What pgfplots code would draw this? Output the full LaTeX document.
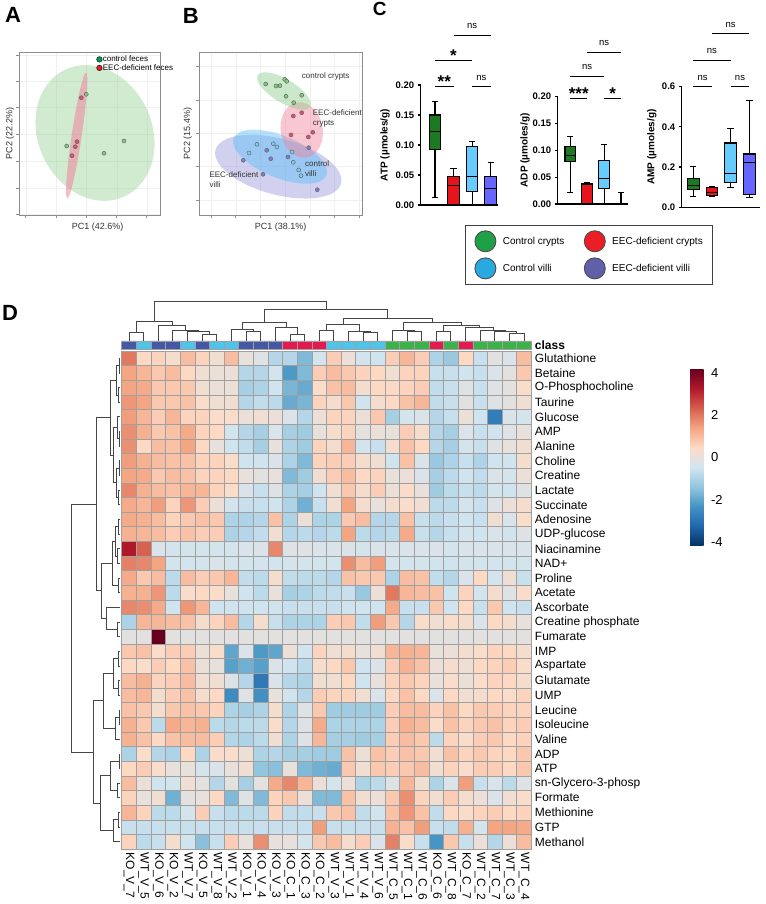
\documentclass[border=0pt]{standalone}
\usepackage{fontspec}
\setmainfont{Liberation Sans}
\usepackage{pgfplots}
\pgfplotsset{compat=1.18}
\usepackage{pgfplotstable}
\usepgfplotslibrary{statistics}

\definecolor{cellgray}{RGB}{160,160,160}
\definecolor{kov}{RGB}{70,87,166}
\definecolor{wtv}{RGB}{79,195,232}
\definecolor{koc}{RGB}{227,26,77}
\definecolor{wtc}{RGB}{59,179,74}
\definecolor{bxgreen}{RGB}{28,122,32}
\definecolor{bxred}{RGB}{232,20,28}
\definecolor{bxblue}{RGB}{102,204,255}
\definecolor{bxpurple}{RGB}{102,102,255}
\definecolor{lggreen}{RGB}{30,160,70}
\definecolor{lgred}{RGB}{235,30,40}
\definecolor{lgblue}{RGB}{40,170,225}
\definecolor{lgpurple}{RGB}{95,95,170}
\definecolor{framegray}{RGB}{140,140,140}
\definecolor{dendro}{RGB}{70,70,70}
\definecolor{elgreen}{RGB}{140,205,140}
\definecolor{elred}{RGB}{240,130,155}
\definecolor{elblue}{RGB}{90,190,245}
\definecolor{elpurple}{RGB}{140,140,215}
\definecolor{ptgreen}{RGB}{130,200,130}
\definecolor{ptred}{RGB}{220,80,110}
\definecolor{ptblue}{RGB}{120,205,240}
\definecolor{ptpurple}{RGB}{125,125,205}
\definecolor{dotgreen}{RGB}{0,160,80}
\definecolor{dotred}{RGB}{230,30,40}

% heatmap values, rows top to bottom (Glutathione ... Methanol), columns in dendrogram order
\pgfplotstableread{
c1 c2 c3 c4 c5 c6 c7 c8 c9 c10 c11 c12 c13 c14 c15 c16 c17 c18 c19 c20 c21 c22 c23 c24 c25 c26 c27 c28
2.0 0.5 0.6 0.3 1.0 0.6 0.2 1.0 0.0 -0.2 -0.9 -0.9 -1.6 -0.4 0.7 0.1 -0.4 -0.5 0.7 1.1 0.7 -1.0 -1.3 0.5 -0.6 -0.1 -0.3 1.0
1.4 1.1 0.8 1.0 0.5 0.2 0.1 0.1 -0.9 -0.9 -0.4 -2.2 -1.6 0.7 1.0 0.8 0.6 0.5 0.2 0.6 0.6 -0.6 -0.6 -0.5 -0.6 -0.3 -0.1 0.8
1.4 1.3 0.8 0.8 0.8 0.2 0.1 0.1 -1.1 -1.0 -0.5 -1.7 -1.9 0.4 0.9 1.0 0.3 0.5 0.5 0.6 0.7 -0.7 -0.6 -0.2 -0.6 -0.2 -0.1 0.4
1.6 1.4 0.8 0.8 0.9 0.4 0.2 0.2 -0.9 -0.7 -0.8 -1.9 -1.7 0.6 0.3 0.8 -0.5 0.3 0.5 0.9 1.1 -0.7 -0.6 -0.1 -0.6 -0.2 -0.1 0.2
1.5 1.1 0.7 1.1 0.6 0.6 0.4 0.4 0.1 0.2 0.1 -0.3 -0.9 0.1 0.6 0.6 0.1 0.8 -1.1 -0.4 -0.3 -0.9 -0.6 0.1 -0.5 -2.8 -0.3 -0.4
1.7 1.2 0.8 0.9 1.3 0.6 0.5 -0.4 -0.9 -1.1 -0.3 -1.1 -1.2 0.0 0.3 0.6 -0.1 0.1 0.0 0.7 0.3 -0.9 -1.1 -0.3 -0.6 -0.5 -0.2 0.0
1.7 0.5 1.0 0.9 1.4 0.5 0.0 -0.5 -0.7 -1.1 0.0 -1.0 -1.2 0.6 0.3 1.1 -0.4 -0.6 0.3 0.9 0.5 -0.9 -1.1 -0.4 -0.6 -0.2 0.0 0.2
1.5 1.2 1.0 0.9 0.9 0.6 0.6 0.4 -0.5 -0.5 -0.3 -1.0 -1.6 0.6 0.7 0.7 0.3 0.2 -0.5 0.9 -0.3 -1.3 -1.0 -0.6 -1.0 -0.5 -0.5 0.3
1.4 1.3 0.8 1.0 0.9 0.6 0.6 0.5 0.0 -0.1 0.0 -1.6 -1.2 0.2 0.7 1.0 0.5 0.6 0.0 0.1 -0.3 -1.1 -0.8 -0.5 -0.7 -0.3 -0.4 0.1
1.8 1.2 1.0 0.9 1.1 1.1 0.6 0.4 -0.3 -0.6 -0.2 -1.0 -1.1 -0.5 0.2 0.8 0.3 0.7 0.1 0.4 0.0 -1.2 -0.8 -0.6 -0.8 -0.4 -0.5 -0.2
1.3 1.1 1.5 0.6 1.6 0.7 0.1 -0.4 -0.6 -0.6 -0.5 -1.0 -1.8 -0.6 0.2 1.4 0.3 0.0 0.3 0.4 0.2 -0.8 -0.8 -0.4 -0.6 -0.2 0.1 0.3
1.3 1.2 1.0 0.6 0.8 0.9 0.8 -1.0 -1.0 -0.9 0.9 -1.0 0.1 -1.0 -1.0 0.8 1.0 -0.9 -0.9 0.9 -0.6 -0.8 -0.6 -0.5 -0.6 0.2 -0.3 0.4
1.2 1.1 1.0 0.7 0.9 0.7 0.7 -1.0 -0.9 -0.7 0.2 -0.9 -0.8 -0.9 -0.8 1.4 -0.8 -0.9 -0.8 1.3 -0.6 -0.9 -0.6 -0.4 -0.5 -0.3 -0.5 -0.2
3.3 2.3 -0.3 -0.4 -0.4 -0.4 -0.4 -0.4 -0.3 -0.3 1.8 -0.2 -0.2 -0.3 -0.3 -0.3 -0.4 -0.3 -0.3 -0.3 -0.3 -0.3 -0.4 -0.3 -0.3 -0.3 -0.3 -0.3
1.9 1.8 1.4 -0.4 -0.4 -0.4 -0.3 -0.4 -0.4 -0.4 -0.4 -0.4 -0.4 -0.4 -0.4 1.7 1.0 1.5 -0.4 -0.4 -0.4 -0.5 -0.5 -0.4 -0.4 -0.4 -0.4 -0.4
1.3 0.8 1.0 -0.8 1.0 0.7 0.8 1.1 -0.7 -0.8 0.3 -0.7 -0.8 -0.8 -0.9 0.9 0.8 0.8 -1.0 1.0 0.9 -0.7 -0.9 -0.3 0.5 -0.4 0.2 -0.6
1.2 1.2 1.6 -0.8 0.4 0.5 0.4 0.0 -0.5 -0.8 0.0 -1.1 -1.0 -0.8 -0.7 -0.6 -1.3 0.1 2.0 1.1 1.0 0.9 -0.5 0.6 -0.4 0.3 -0.2 0.4
1.8 1.7 1.3 -0.5 1.6 1.1 -0.5 -0.5 -0.5 -0.5 -0.5 -0.6 -0.6 -0.6 -0.6 -0.5 -0.5 -0.5 1.3 -0.6 -0.6 0.8 -0.5 0.5 -0.6 0.8 -0.5 -0.6
-1.0 1.1 1.1 1.0 0.9 0.3 0.6 1.0 -0.9 0.3 -0.6 -1.0 -1.0 -1.0 0.7 0.8 -0.7 1.5 0.8 -0.9 0.4 0.2 0.4 0.3 -0.3 0.5 0.3 0.0
-0.1 -0.1 4.2 -0.1 -0.1 -0.1 -0.1 -0.1 -0.1 -0.1 -0.1 -0.1 -0.1 -0.1 -0.1 -0.1 -0.1 -0.1 -0.1 -0.1 -0.1 -0.1 -0.1 -0.1 -0.1 -0.1 -0.1 -0.1
0.8 0.9 0.4 0.7 0.7 0.1 0.4 -2.0 -0.3 -2.2 -2.0 0.1 -0.5 0.6 0.2 0.3 0.0 0.2 1.1 1.2 1.1 0.0 0.1 0.3 0.4 0.6 0.5 0.3
0.5 0.4 0.7 0.5 0.9 0.1 0.0 -2.1 -1.8 -2.1 -0.3 -0.5 -0.8 0.3 0.5 0.8 -0.5 -0.3 0.7 1.2 0.9 0.1 0.3 0.2 0.5 0.6 0.7 0.4
1.0 1.2 0.6 0.7 1.0 0.2 0.2 -0.2 -0.9 -2.9 -0.3 -0.9 -1.0 0.2 0.2 0.5 -0.5 0.0 0.6 0.8 0.6 0.0 0.4 0.1 0.4 0.6 0.5 0.3
1.0 1.1 0.3 0.7 0.9 0.3 0.5 -2.5 -0.2 -2.4 0.0 -0.5 -0.9 0.7 0.6 0.6 0.2 -0.3 0.5 0.9 0.5 -0.3 0.5 0.2 0.3 0.5 0.4 0.6
0.9 0.8 0.3 0.8 0.9 0.8 0.6 -1.0 -1.1 -1.0 0.3 -1.0 -0.2 0.8 -1.2 -1.2 -1.2 -1.2 0.7 1.0 1.0 0.6 0.9 0.5 0.8 0.7 0.6 0.6
1.2 0.8 -0.8 1.3 1.1 1.2 -0.8 -0.9 -0.8 -0.8 0.4 -0.9 -0.2 1.3 -1.0 -1.0 -1.0 -1.0 0.7 1.2 1.0 0.4 0.9 0.6 0.8 0.9 0.6 0.7
1.2 0.9 0.5 0.9 1.0 1.0 0.7 -0.9 -1.0 -0.8 0.2 -1.0 -0.2 1.1 -1.1 -1.1 -1.2 -1.1 0.7 1.0 0.8 -0.8 0.6 0.4 0.7 0.8 0.5 0.6
-1.0 0.4 -0.9 -1.0 0.5 -1.0 0.4 0.4 0.1 -1.0 -0.9 -1.1 -1.1 -1.2 -1.2 0.9 0.1 0.9 0.7 0.9 0.8 0.2 0.9 0.6 0.8 0.6 0.5 0.8
0.5 0.7 0.4 0.0 0.0 -0.4 -0.3 0.0 0.2 -1.4 -1.5 0.0 -1.6 -1.8 -1.9 0.8 0.2 0.8 0.7 0.8 1.0 0.2 0.6 0.4 0.7 0.7 0.5 0.8
1.0 0.1 -0.5 -0.4 0.2 -0.1 -0.9 -0.1 -1.1 -0.1 1.3 1.8 1.1 0.1 -0.4 0.1 -1.0 -0.8 -0.2 1.1 0.2 -1.0 -0.3 1.5 -0.6 -0.3 -0.8 -0.2
0.6 0.0 0.2 -1.8 -0.1 0.0 0.5 -1.6 -0.2 -1.6 0.6 0.8 0.1 -1.6 -1.6 0.9 0.2 0.1 0.8 1.7 0.6 0.2 0.7 0.3 0.1 -0.3 0.2 0.4
1.1 0.6 -0.8 -0.8 -0.4 0.7 -0.6 -0.8 -0.8 -0.8 0.6 -0.7 -0.7 -0.6 0.8 0.9 -0.7 -0.4 0.9 1.6 0.9 -0.7 0.5 0.4 0.6 0.7 0.5 0.6
-0.6 -0.6 -0.6 -0.6 -0.6 -0.6 -0.6 -0.6 -0.6 -0.6 -0.6 -0.6 -0.6 1.5 -0.6 -0.6 -0.6 -0.6 1.2 0.9 1.5 -0.6 -0.7 1.2 -0.4 1.4 1.4 1.3
0.6 -0.8 -0.6 0.3 -0.5 -1.5 -0.6 0.7 0.0 1.7 0.0 0.0 -0.4 0.8 1.0 0.3 0.7 -0.3 1.9 0.4 -0.6 -2.3 0.8 -0.6 0.1 -0.9 0.1 1.0
}\heatdata

\pgfplotsset{
  dl/.style={color=dendro, line width=0.9pt, forget plot},
  pca/.style={
    scale only axis, clip=false,
    axis line style={framegray, line width=0.8pt},
    xticklabel=\empty, yticklabel=\empty,
    tick pos=left, tick align=outside, major tick length=3pt,
    tick style={framegray, line width=0.6pt},
    grid=major, grid style={black!6, line width=0.4pt},
    label style={font=\fontsize{9}{10}\selectfont, text=black!80},
  },
  prism/.style={
    scale only axis, clip=false,
    axis x line=bottom, axis y line=left,
    axis line style={-, line width=1.2pt},
    xtick=\empty,
    tick align=outside, major tick length=3pt,
    ytick style={line width=1.2pt, black},
    yticklabel style={font=\bfseries\fontsize{9.5}{10}\selectfont},
    ylabel style={anchor=center, font=\bfseries\fontsize{10}{12}\selectfont},
    boxplot/draw direction=y, boxplot/box extend=0.63, boxplot/whisker extend=0.34,
  },
  bx/.style={draw=black, line width=1.1pt, fill=#1},
  sig/.style={black, line width=1pt, forget plot},
}
\tikzset{
  ns/.style={font=\fontsize{9.5}{10}\selectfont, anchor=base, yshift=6.5pt},
  st/.style={font=\bfseries\fontsize{17}{17}\selectfont, anchor=base, yshift=-1pt},
  pl/.style={font=\fontsize{8}{9}\selectfont, text=black!80, anchor=west, inner sep=0pt},
}

\begin{document}
\begin{tikzpicture}[x=1pt,y=1pt]
\path[use as bounding box] (0,0) rectangle (765,904);

% panel letters
\node[anchor=base west, inner sep=0pt, font=\bfseries\fontsize{22}{22}\selectfont] at (5,881) {A};
\node[anchor=base west, inner sep=0pt, font=\bfseries\fontsize{22}{22}\selectfont] at (182.7,880.7) {B};
\node[anchor=base west, inner sep=0pt, font=\bfseries\fontsize{19}{19}\selectfont] at (372.7,888) {C};
\node[anchor=base west, inner sep=0pt, font=\bfseries\fontsize{22}{22}\selectfont] at (2,583.3) {D};

% ---------------- A: PCA feces
\begin{axis}[pca,
  at={(19pt,689pt)}, anchor=south west, width=141pt, height=163pt,
  xmin=19, xmax=160, ymin=689, ymax=852,
  xtick={25.7,56,86.3,116.7,146.7},
  ytick={689.7,715.7,743,769.7,796.3,823,849},
  xlabel={PC1 (42.6\%)}, ylabel={PC2 (22.2\%)},
  xlabel style={at={(rel axis cs:0.558,-0.074)}, anchor=center},
  ylabel style={at={(rel axis cs:-0.064,0.5)}, anchor=center},
  legend style={at={(0.528,0.994)}, anchor=north west, draw=none, fill=none,
    font=\fontsize{8}{9}\selectfont, nodes={inner sep=0.6pt}},
  legend cell align=left,
  legend image code/.code={\draw[#1] plot coordinates {(0pt,0pt)};},
]
\fill[elgreen, fill opacity=0.4] (axis cs:95,771) ellipse [x radius=70pt, y radius=57pt, rotate=-65];
\fill[elred, fill opacity=0.55] (axis cs:76.7,768.5) ellipse [x radius=63.5pt, y radius=5pt, rotate=81.5];
\addplot[only marks, mark=*, mark size=2pt, mark options={fill=ptgreen, draw=black!60, line width=0.5pt}, forget plot]
  coordinates {(86.3,809.7) (66.7,758) (104,750.7) (124,763)};
\addplot[only marks, mark=*, mark size=2pt, mark options={fill=ptred, draw=black!60, line width=0.5pt}, forget plot]
  coordinates {(81.3,806.3) (77,762.3) (75.3,757.3) (72,748.3)};
\addlegendimage{only marks, mark=*, mark size=2.8pt, mark options={fill=dotgreen, draw=none}}
\addlegendentry{control feces}
\addlegendimage{only marks, mark=*, mark size=2.8pt, mark options={fill=dotred, draw=none}}
\addlegendentry{EEC-deficient feces}
\end{axis}

% ---------------- B: PCA crypts / villi
\begin{axis}[pca,
  at={(199pt,689pt)}, anchor=south west, width=163pt, height=163pt,
  xmin=199, xmax=362, ymin=689, ymax=852,
  xtick={211,235.7,260.3,285,309.7,334.3,359},
  ytick={704,737.3,770.7,804,837.3},
  xlabel={PC1 (38.1\%)}, ylabel={PC2 (15.4\%)},
  xlabel style={at={(rel axis cs:0.501,-0.074)}, anchor=center},
  ylabel style={at={(rel axis cs:-0.068,0.5)}, anchor=center},
]
\fill[elpurple, fill opacity=0.4] (axis cs:278.3,737.3) ellipse [x radius=65pt, y radius=28pt, rotate=-15];
\fill[elblue, fill opacity=0.45] (axis cs:280,747.3) ellipse [x radius=50pt, y radius=21pt, rotate=-22];
\fill[elred, fill opacity=0.45] (axis cs:301.7,774) ellipse [x radius=28pt, y radius=21pt, rotate=100];
\fill[elgreen, fill opacity=0.45] (axis cs:284,813) ellipse [x radius=30.6pt, y radius=11.7pt, rotate=-31];
\addplot[only marks, mark=*, mark size=2pt, mark options={fill=ptgreen, draw=black!60, line width=0.5pt}]
  coordinates {(265.7,820) (276,818) (280,818.3) (284.7,824.7) (286.7,822.7) (286,807.7) (301.7,808.7) (293.7,801.3)};
\addplot[only marks, mark=*, mark size=2pt, mark options={fill=ptred, draw=black!60, line width=0.5pt}]
  coordinates {(293.3,788) (301.7,791.3) (291,769) (308.3,767) (312.7,771.7)};
\addplot[only marks, mark=*, mark size=2pt, mark options={fill=ptblue, draw=black!60, line width=0.5pt}]
  coordinates {(249,751) (257,759.7) (273.3,760.3) (277,757) (292,752) (293.3,741.7) (298.7,734) (301,728.3)};
\addplot[only marks, mark=*, mark size=2pt, mark options={fill=ptpurple, draw=black!60, line width=0.5pt}]
  coordinates {(243.3,743.7) (266.7,753.7) (270.7,745.3) (288,747) (308.7,756.3) (263,729.7) (317.3,714.3)};
\node[pl] at (axis cs:301.7,827.3) {control crypts};
\node[pl] at (axis cs:312.7,791.3) {EEC-deficient};
\node[pl] at (axis cs:312.7,780) {crypts};
\node[pl] at (axis cs:305,740) {control};
\node[pl] at (axis cs:305,730) {villi};
\node[pl] at (axis cs:209.3,729.7) {EEC-deficient};
\node[pl] at (axis cs:209.3,719.7) {villi};
\end{axis}

% ---------------- C: ATP
\begin{axis}[prism,
  at={(420.7pt,699pt)}, anchor=south west, width=77pt, height=120pt,
  xmin=0.23, xmax=4.38, ymin=0, ymax=0.2,
  ytick={0,0.05,0.1,0.15,0.2}, yticklabels={0.00,0.05,0.10,0.15,0.20},
  ylabel={ATP (µmoles/g)}, ylabel style={at={(axis description cs:-0.464,0.5)}},
]
\addplot[bx=bxgreen, boxplot prepared={lower whisker=0.012, lower quartile=0.093, median=0.122, upper quartile=0.150, upper whisker=0.172, draw position=1}] coordinates {};
\addplot[bx=bxred, boxplot prepared={lower whisker=0, lower quartile=0, median=0.032, upper quartile=0.048, upper whisker=0.061, draw position=2}] coordinates {};
\addplot[bx=bxblue, boxplot prepared={lower whisker=0, lower quartile=0.023, median=0.048, upper quartile=0.097, upper whisker=0.106, draw position=3}] coordinates {};
\addplot[bx=bxpurple, boxplot prepared={lower whisker=0, lower quartile=0, median=0.028, upper quartile=0.047, upper whisker=0.071, draw position=4}] coordinates {};
\addplot[sig] coordinates {(1,0.197) (2,0.197)};
\addplot[sig] coordinates {(3,0.197) (4,0.197)};
\addplot[sig] coordinates {(1,0.2406) (3,0.2406)};
\addplot[sig] coordinates {(2,0.2828) (4,0.2828)};
\node[st] at (axis cs:1.5,0.197) {**};
\node[ns] at (axis cs:3.5,0.197) {ns};
\node[st] at (axis cs:2,0.2406) {*};
\node[ns] at (axis cs:3,0.2828) {ns};
\end{axis}

% ---------------- C: ADP
\begin{axis}[prism,
  at={(557.7pt,700pt)}, anchor=south west, width=70.6pt, height=107.3pt,
  xmin=0.255, xmax=4.43, ymin=0, ymax=0.2,
  ytick={0,0.05,0.1,0.15,0.2}, yticklabels={0.00,0.05,0.10,0.15,0.20},
  ylabel={ADP (µmoles/g)}, ylabel style={at={(axis description cs:-0.463,0.5)}},
]
\addplot[bx=bxgreen, boxplot prepared={lower whisker=0.021, lower quartile=0.079, median=0.091, upper quartile=0.107, upper whisker=0.125, draw position=1}] coordinates {};
\addplot[bx=bxred, boxplot prepared={lower whisker=0, lower quartile=0, median=0.036, upper quartile=0.039, upper whisker=0.040, draw position=2}] coordinates {};
\addplot[bx=bxblue, boxplot prepared={lower whisker=0, lower quartile=0.029, median=0.047, upper quartile=0.081, upper whisker=0.111, draw position=3}] coordinates {};
\addplot[bx=bxpurple, boxplot prepared={lower whisker=0, lower quartile=0, median=0, upper quartile=0, upper whisker=0.022, draw position=4}] coordinates {};
\addplot[sig] coordinates {(1,0.197) (2,0.197)};
\addplot[sig] coordinates {(3,0.197) (4,0.197)};
\addplot[sig] coordinates {(1,0.2385) (3,0.2385)};
\addplot[sig] coordinates {(2,0.2826) (4,0.2826)};
\node[st] at (axis cs:1.5,0.197) {***};
\node[st] at (axis cs:3.5,0.197) {*};
\node[ns] at (axis cs:2,0.2385) {ns};
\node[ns] at (axis cs:3,0.2826) {ns};
\end{axis}

% ---------------- C: AMP
\begin{axis}[prism,
  at={(681.7pt,696.7pt)}, anchor=south west, width=78.3pt, height=120.6pt,
  xmin=0.38, xmax=4.57, ymin=0, ymax=0.6,
  ytick={0,0.2,0.4,0.6}, yticklabels={0.0,0.2,0.4,0.6},
  ylabel={AMP (µmoles/g)}, ylabel style={at={(axis description cs:-0.383,0.5)}},
]
\addplot[bx=bxgreen, boxplot prepared={lower whisker=0.055, lower quartile=0.087, median=0.110, upper quartile=0.143, upper whisker=0.205, draw position=1}] coordinates {};
\addplot[bx=bxred, boxplot prepared={lower whisker=0.055, lower quartile=0.058, median=0.075, upper quartile=0.100, upper whisker=0.105, draw position=2}] coordinates {};
\addplot[bx=bxblue, boxplot prepared={lower whisker=0.100, lower quartile=0.125, median=0.170, upper quartile=0.320, upper whisker=0.390, draw position=3}] coordinates {};
\addplot[bx=bxpurple, boxplot prepared={lower whisker=0.048, lower quartile=0.063, median=0.222, upper quartile=0.265, upper whisker=0.530, draw position=4}] coordinates {};
\addplot[sig] coordinates {(1,0.6) (2,0.6)};
\addplot[sig] coordinates {(3,0.6) (4,0.6)};
\addplot[sig] coordinates {(1,0.731) (3,0.731)};
\addplot[sig] coordinates {(2,0.8635) (4,0.8635)};
\node[ns] at (axis cs:1.5,0.6) {ns};
\node[ns] at (axis cs:3.5,0.6) {ns};
\node[ns] at (axis cs:2,0.731) {ns};
\node[ns] at (axis cs:3,0.8635) {ns};
\end{axis}

% ---------------- C: shared legend
\begin{axis}[
  at={(588.85pt,649.15pt)}, anchor=center, width=252.3pt, height=61.7pt,
  scale only axis, hide axis, xmin=0, xmax=1, ymin=0, ymax=1,
  legend columns=2,
  legend style={at={(0.5,0.5)}, anchor=center, draw=black!75, line width=1.1pt,
    font=\fontsize{10}{12}\selectfont, inner xsep=9.5pt, inner ysep=5.4pt,
    nodes={inner sep=0pt}, row sep=6.1pt,
    /tikz/every odd column/.append style={column sep=6.9pt},
    /tikz/every even column/.append style={column sep=19.8pt}},
  legend cell align=left,
  legend image code/.code={\draw[#1] plot coordinates {(0pt,0pt)};},
]
\addlegendimage{only marks, mark=*, mark size=10.5pt, mark options={fill=lggreen, draw=black!70, line width=0.9pt}}
\addlegendentry{Control crypts}
\addlegendimage{only marks, mark=*, mark size=10.5pt, mark options={fill=lgred, draw=black!70, line width=0.9pt}}
\addlegendentry{EEC-deficient crypts}
\addlegendimage{only marks, mark=*, mark size=10.5pt, mark options={fill=lgblue, draw=black!70, line width=0.9pt}}
\addlegendentry{Control villi}
\addlegendimage{only marks, mark=*, mark size=10.5pt, mark options={fill=lgpurple, draw=black!70, line width=0.9pt}}
\addlegendentry{EEC-deficient villi}
\end{axis}

% ---------------- D: heatmap
\begin{axis}[
  at={(121.7pt,54.8pt)}, anchor=south west, width=409.7pt, height=498.2pt,
  scale only axis, clip=false,
  xmin=0.5, xmax=28.5, ymin=0.5, ymax=34.5,
  axis line style={draw=none}, major tick length=0pt,
  xtick={1,...,28},
  xticklabels={KO\_V\_7,WT\_V\_5,KO\_V\_6,KO\_V\_2,WT\_V\_7,KO\_V\_5,WT\_V\_8,WT\_V\_2,KO\_V\_1,KO\_V\_4,KO\_V\_3,KO\_C\_1,KO\_C\_3,KO\_C\_2,WT\_V\_3,WT\_V\_1,WT\_V\_4,WT\_V\_6,WT\_C\_5,WT\_C\_1,WT\_C\_6,KO\_C\_6,WT\_C\_8,KO\_C\_7,WT\_C\_2,WT\_C\_7,WT\_C\_3,WT\_C\_4},
  xticklabel style={rotate=-90, anchor=west, font=\fontsize{12}{12}\selectfont},
  ytick={1,...,34},
  yticklabels={Methanol,GTP,Methionine,Formate,sn-Glycero-3-phosp,ATP,ADP,Valine,Isoleucine,Leucine,UMP,Glutamate,Aspartate,IMP,Fumarate,Creatine phosphate,Ascorbate,Acetate,Proline,NAD+,Niacinamine,UDP-glucose,Adenosine,Succinate,Lactate,Creatine,Choline,Alanine,AMP,Glucose,Taurine,O-Phosphocholine,Betaine,Glutathione},
  yticklabel pos=right,
  yticklabel style={font=\fontsize{12}{12}\selectfont},
  colormap={rdbu}{rgb255(0cm)=(5,48,97) rgb255(1cm)=(33,102,172) rgb255(2cm)=(67,147,195) rgb255(3cm)=(146,197,222) rgb255(4cm)=(209,229,240) rgb255(5cm)=(253,219,199) rgb255(6cm)=(244,165,130) rgb255(7cm)=(214,96,77) rgb255(8cm)=(178,24,43) rgb255(9cm)=(103,0,31)},
  point meta min=-4.2, point meta max=4.2,
  colorbar,
  colorbar style={at={(parent axis.east)}, anchor=west, xshift=150.3pt, yshift=142.6pt,
    width=13.3pt, height=177pt,
    ytick={-4,-2,0,2,4}, yticklabels={-4,-2,0,2,4},
    yticklabel style={font=\fontsize{13}{13}\selectfont, xshift=4pt},
    major tick length=0pt, axis line style={draw=none}},
]
\pgfplotsinvokeforeach{1,...,28}{
  \addplot[scatter, only marks, mark=square*, mark size=7.32pt, line width=0.7pt,
    point meta=explicit, scatter/use mapped color={draw=cellgray, fill=mapped color}]
    table[x expr=#1, y expr=34-\coordindex, meta=c#1] {\heatdata};
}
\end{axis}

% class bar
\begin{axis}[
  at={(121.7pt,554.7pt)}, anchor=south west, width=409.7pt, height=8.3pt,
  scale only axis, clip=false,
  xmin=0.5, xmax=28.5, ymin=0, ymax=1,
  axis line style={draw=none}, major tick length=0pt,
  xtick=\empty, ytick={0.5}, yticklabels={\bfseries class}, yticklabel pos=right,
  yticklabel style={font=\fontsize{12}{12}\selectfont},
]
\addplot[ybar, bar width=1, bar shift=0pt, fill=kov, draw=cellgray, line width=0.7pt] coordinates {(1,1) (3,1) (4,1) (6,1) (9,1) (10,1) (11,1)};
\addplot[ybar, bar width=1, bar shift=0pt, fill=wtv, draw=cellgray, line width=0.7pt] coordinates {(2,1) (5,1) (7,1) (8,1) (15,1) (16,1) (17,1) (18,1)};
\addplot[ybar, bar width=1, bar shift=0pt, fill=koc, draw=cellgray, line width=0.7pt] coordinates {(12,1) (13,1) (14,1) (22,1) (24,1)};
\addplot[ybar, bar width=1, bar shift=0pt, fill=wtc, draw=cellgray, line width=0.7pt] coordinates {(19,1) (20,1) (21,1) (23,1) (25,1) (26,1) (27,1) (28,1)};
\end{axis}

% column dendrogram
\begin{axis}[
  at={(121.7pt,563pt)}, anchor=south west, width=409.7pt, height=40pt,
  scale only axis, hide axis, clip=false,
  xmin=0.5, xmax=28.5, ymin=0, ymax=40,
]
\addplot[dl] coordinates {(1,0) (1,8.7) (2,8.7) (2,0)};
\addplot[dl] coordinates {(6,0) (6,7) (7,7) (7,0)};
\addplot[dl] coordinates {(5,0) (5,9.5) (6.5,9.5) (6.5,7)};
\addplot[dl] coordinates {(4,0) (4,10.5) (5.75,10.5) (5.75,9.5)};
\addplot[dl] coordinates {(3,0) (3,15.3) (4.875,15.3) (4.875,10.5)};
\addplot[dl] coordinates {(1.5,8.7) (1.5,20) (3.94,20) (3.94,15.3)};
\addplot[dl] coordinates {(9,0) (9,10) (10,10) (10,0)};
\addplot[dl] coordinates {(8,0) (8,11.7) (9.5,11.7) (9.5,10)};
\addplot[dl] coordinates {(12,0) (12,6.7) (13,6.7) (13,0)};
\addplot[dl] coordinates {(11,0) (11,13.7) (12.5,13.7) (12.5,6.7)};
\addplot[dl] coordinates {(8.75,11.7) (8.75,18.7) (11.75,18.7) (11.75,13.7)};
\addplot[dl] coordinates {(14,0) (14,11) (15,11) (15,0)};
\addplot[dl] coordinates {(17,0) (17,8.7) (18,8.7) (18,0)};
\addplot[dl] coordinates {(16,0) (16,10) (17.5,10) (17.5,8.7)};
\addplot[dl] coordinates {(14.5,11) (14.5,17) (16.75,17) (16.75,10)};
\addplot[dl] coordinates {(20,0) (20,9.3) (21,9.3) (21,0)};
\addplot[dl] coordinates {(19,0) (19,11) (20.5,11) (20.5,9.3)};
\addplot[dl] coordinates {(22,0) (22,9.3) (23,9.3) (23,0)};
\addplot[dl] coordinates {(27,0) (27,7.7) (28,7.7) (28,0)};
\addplot[dl] coordinates {(26,0) (26,9.3) (27.5,9.3) (27.5,7.7)};
\addplot[dl] coordinates {(25,0) (25,11) (26.75,11) (26.75,9.3)};
\addplot[dl] coordinates {(24,0) (24,14) (25.88,14) (25.88,11)};
\addplot[dl] coordinates {(22.5,9.3) (22.5,16) (24.94,16) (24.94,14)};
\addplot[dl] coordinates {(19.75,11) (19.75,19) (23.72,19) (23.72,16)};
\addplot[dl] coordinates {(15.63,17) (15.63,22.7) (21.73,22.7) (21.73,19)};
\addplot[dl] coordinates {(10.25,18.7) (10.25,31.7) (18.68,31.7) (18.68,22.7)};
\addplot[dl] coordinates {(2.72,20) (2.72,40) (14.46,40) (14.46,31.7)};
\end{axis}

% row dendrogram (x = distance from heatmap, y = row number from top)
\begin{axis}[
  at={(95pt,303.9pt)}, anchor=center, width=50pt, height=498.2pt,
  scale only axis, hide axis, clip=false,
  xmin=0, xmax=50, x dir=reverse, ymin=0.5, ymax=34.5, y dir=reverse,
]
\addplot[dl] coordinates {(0,1) (1,1) (1,2) (0,2)};
\addplot[dl] coordinates {(0,3) (2,3) (2,4) (0,4)};
\addplot[dl] coordinates {(1,1.5) (4,1.5) (4,3.5) (2,3.5)};
\addplot[dl] coordinates {(0,6) (1,6) (1,7) (0,7)};
\addplot[dl] coordinates {(0,5) (2.5,5) (2.5,6.5) (1,6.5)};
\addplot[dl] coordinates {(0,8) (1,8) (1,9) (0,9)};
\addplot[dl] coordinates {(0,10) (1.5,10) (1.5,11) (0,11)};
\addplot[dl] coordinates {(1,8.5) (3.5,8.5) (3.5,10.5) (1.5,10.5)};
\addplot[dl] coordinates {(2.5,5.75) (7,5.75) (7,9.5) (3.5,9.5)};
\addplot[dl] coordinates {(4,2.5) (10,2.5) (10,7.625) (7,7.625)};
\addplot[dl] coordinates {(0,12) (2,12) (2,13) (0,13)};
\addplot[dl] coordinates {(0,14) (3,14) (3,15) (0,15)};
\addplot[dl] coordinates {(2,12.5) (5,12.5) (5,14.5) (3,14.5)};
\addplot[dl] coordinates {(0,16) (2,16) (2,17) (0,17)};
\addplot[dl] coordinates {(5,13.5) (8,13.5) (8,16.5) (2,16.5)};
\addplot[dl] coordinates {(0,19) (3,19) (3,20) (0,20)};
\addplot[dl] coordinates {(0,18) (13.3,18) (13.3,19.5) (3,19.5)};
\addplot[dl] coordinates {(8,15) (18.3,15) (18.3,18.75) (13.3,18.75)};
\addplot[dl] coordinates {(10,5.06) (23.3,5.06) (23.3,16.875) (18.3,16.875)};
\addplot[dl] coordinates {(0,21) (2,21) (2,22) (0,22)};
\addplot[dl] coordinates {(0,23) (1.7,23) (1.7,24) (0,24)};
\addplot[dl] coordinates {(2,21.5) (7,21.5) (7,23.5) (1.7,23.5)};
\addplot[dl] coordinates {(0,25) (1,25) (1,26) (0,26)};
\addplot[dl] coordinates {(1,25.5) (5,25.5) (5,27) (0,27)};
\addplot[dl] coordinates {(7,22.5) (16.7,22.5) (16.7,26.25) (5,26.25)};
\addplot[dl] coordinates {(0,28) (1,28) (1,29) (0,29)};
\addplot[dl] coordinates {(0,30) (3,30) (3,31) (0,31)};
\addplot[dl] coordinates {(1,28.5) (10,28.5) (10,30.5) (3,30.5)};
\addplot[dl] coordinates {(0,32) (2,32) (2,33) (0,33)};
\addplot[dl] coordinates {(2,32.5) (7,32.5) (7,34) (0,34)};
\addplot[dl] coordinates {(10,29.5) (20,29.5) (20,33.25) (7,33.25)};
\addplot[dl] coordinates {(16.7,24.375) (26.7,24.375) (26.7,31.375) (20,31.375)};
\addplot[dl] coordinates {(23.3,10.97) (48.3,10.97) (48.3,27.875) (26.7,27.875)};
\end{axis}
\end{tikzpicture}
\end{document}
